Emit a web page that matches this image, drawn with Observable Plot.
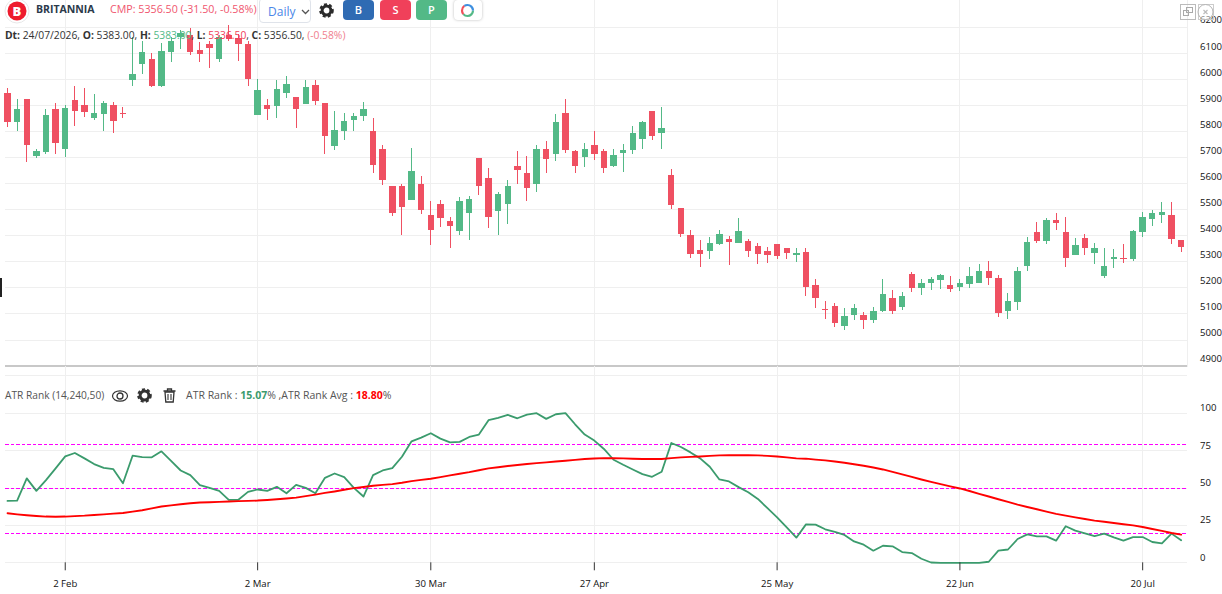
<!DOCTYPE html>
<html>
<head>
<meta charset="utf-8">
<script src="https://cdn.jsdelivr.net/npm/d3@7"></script>
<script src="https://cdn.jsdelivr.net/npm/@observablehq/plot@0.6"></script>
<style>
html,body{margin:0;padding:0;background:#fff;width:1222px;height:594px;overflow:hidden;font-family:"Open Sans",sans-serif;}
#root{position:relative;width:1222px;height:594px;overflow:hidden;}
#price,#atr{position:absolute;left:0;}
#price{top:0;} #atr{top:366px;}
.t{position:absolute;white-space:nowrap;line-height:1;}
.btn{position:absolute;top:0;width:31px;height:20px;border-radius:4px;color:#fff;font-size:11px;font-weight:600;text-align:center;line-height:20px;}
svg.ic{position:absolute;overflow:visible;}
</style>
</head>
<body>
<div id="root">
  <div id="price"></div>
  <div id="atr"></div>

  <svg class="ic" style="left:4px;top:-2px" width="26" height="26" viewBox="0 0 26 26">
    <circle cx="13" cy="13" r="12" fill="#fff" stroke="#e8e8e8" stroke-width="1"/>
    <circle cx="13" cy="13" r="9.5" fill="#ee1c2e"/>
    <text x="13" y="17.6" text-anchor="middle" font-size="13" font-weight="800" fill="#fff" font-family="Open Sans">B</text>
  </svg>
  <div class="t" style="left:36px;top:4px;font-size:10.5px;font-weight:700;color:#2b3a4a;">BRITANNIA</div>
  <div class="t" style="left:110px;top:3.5px;font-size:10.7px;color:#f0566e;" id="cmp">CMP: 5356.50 (-31.50, -0.58%)</div>
  <div style="position:absolute;left:259px;top:-2px;width:52px;height:25px;background:#fff;border:1px solid #dfe3ea;border-radius:4px;box-sizing:border-box;"></div>
  <div class="t" style="left:268px;top:6px;font-size:12px;color:#4a86e8;">Daily</div>
  <svg class="ic" style="left:301px;top:9px" width="9" height="6" viewBox="0 0 9 6"><path d="M1 1 L4.5 4.5 L8 1" fill="none" stroke="#555" stroke-width="1.3"/></svg>

  <svg class="ic" style="left:319px;top:3px" width="15" height="15" viewBox="0 0 15 15">
    <circle cx="7.5" cy="7.5" r="4.4" fill="none" stroke="#2b2b2b" stroke-width="3"/>
    <circle cx="7.5" cy="7.5" r="6.3" fill="none" stroke="#2b2b2b" stroke-width="2" stroke-dasharray="3 2.27"/>
  </svg>
  <div class="btn" style="left:343px;background:#2f6bb3;">B</div>
  <div class="btn" style="left:380px;background:#f0405a;">S</div>
  <div class="btn" style="left:416px;background:#53b987;">P</div>
  <div style="position:absolute;left:454px;top:0;width:28px;height:20px;background:#fff;border-radius:4px;box-shadow:0 0 3px #bbb;"></div>
  <svg class="ic" style="left:460px;top:3px" width="15" height="15" viewBox="0 0 15 15">
    <circle cx="7.5" cy="7.5" r="5.5" fill="none" stroke="#53b987" stroke-width="2.2" stroke-dasharray="13 21.6"/>
    <circle cx="7.5" cy="7.5" r="5.5" fill="none" stroke="#f0505a" stroke-width="2.2" stroke-dasharray="9 25.6" stroke-dashoffset="-13"/>
    <circle cx="7.5" cy="7.5" r="5.5" fill="none" stroke="#3d8fe0" stroke-width="2.2" stroke-dasharray="12.6 22" stroke-dashoffset="-22"/>
  </svg>

  <div class="t" id="dt" style="left:5px;top:29.5px;font-size:10.3px;color:#333;">
    <b>Dt:</b> 24/07/2026, <b>O:</b> 5383.00, <b>H:</b> <span style="color:#53b987">5383.00</span>, <b>L:</b> <span style="color:#f0405a">5336.50</span>, <b>C:</b> 5356.50, <span style="color:#f0808e">(-0.58%)</span>
  </div>

  <svg class="ic" style="left:1180px;top:4px" width="34" height="16" viewBox="0 0 34 16">
    <rect x="0.5" y="0.5" width="15" height="15" fill="none" stroke="#bbb"/>
    <rect x="3.5" y="6.5" width="5" height="5" fill="none" stroke="#aaa"/>
    <rect x="6.5" y="3.5" width="6" height="5" fill="none" stroke="#aaa"/>
    <rect x="18.5" y="0.5" width="15" height="15" fill="none" stroke="#ccc"/>
    <circle cx="25.5" cy="8" r="7.5" fill="#fff" fill-opacity="0.5" stroke="#b5b5b5"/>
    <path d="M23.5 6 L27.5 10 M27.5 6 L23.5 10" stroke="#bbb" stroke-width="1.2"/>
  </svg>

  <div style="position:absolute;left:0;top:278px;width:1.5px;height:19px;background:#222;"></div>

  <div class="t" id="lg" style="left:5px;top:390px;font-size:10.2px;color:#555;">ATR Rank (14,240,50)</div>
  <svg class="ic" style="left:111px;top:389px" width="18" height="14" viewBox="0 0 18 14">
    <ellipse cx="9" cy="7" rx="7.5" ry="5.2" fill="none" stroke="#333" stroke-width="1.2"/>
    <circle cx="9" cy="7" r="3" fill="none" stroke="#333" stroke-width="1.3"/>
  </svg>
  <svg class="ic" style="left:137px;top:388px" width="15" height="15" viewBox="0 0 15 15">
    <circle cx="7.5" cy="7.5" r="4.4" fill="none" stroke="#333" stroke-width="3"/>
    <circle cx="7.5" cy="7.5" r="6.3" fill="none" stroke="#333" stroke-width="2" stroke-dasharray="3 2.27"/>
  </svg>
  <svg class="ic" style="left:163px;top:388px" width="13" height="15" viewBox="0 0 13 15">
    <path d="M0.5 3 H12.5 M4.5 3 V1 H8.5 V3" fill="none" stroke="#333" stroke-width="1.3"/>
    <path d="M2 4 L2.8 14 H10.2 L11 4 Z" fill="none" stroke="#333" stroke-width="1.3"/>
    <path d="M5 6 V12 M8 6 V12" stroke="#333" stroke-width="1.1"/>
  </svg>
  <div class="t" id="lg2" style="left:186px;top:390px;font-size:10.5px;color:#555;">ATR Rank : <b style="color:#3b9b6d">15.07</b>% ,ATR Rank Avg : <b style="color:#ff0000">18.80</b>%</div>
</div>

<script>
const open = [5948,5835,5923,5706,5721,5886,5730,5921,5900,5852,5867,5900,5870,5998,6056,6078,5975,6105,6160,6170,6113,6136,6078,6169,6159,6135,5863,5902,5898,5945,5931,5905,5978,5909,5744,5802,5844,5859,5800,5733,5590,5590,5535,5598,5478,5521,5456,5417,5487,5698,5621,5494,5521,5667,5640,5597,5732,5711,5871,5725,5702,5748,5725,5667,5717,5728,5771,5878,5794,5632,5506,5402,5344,5341,5368,5387,5371,5379,5360,5341,5367,5352,5325,5336,5208,5119,5129,5050,5094,5094,5074,5108,5159,5124,5251,5197,5216,5229,5211,5201,5213,5216,5263,5236,5109,5144,5282,5412,5378,5458,5412,5324,5389,5332,5243,5309,5312,5309,5412,5462,5478,5478,5383];
const high = [5966,5923,5923,5731,5885,5908,5900,5975,5966,5943,5916,5912,5894,6163,6147,6101,6137,6163,6190,6196,6141,6147,6167,6209,6173,6145,6001,5923,5996,6013,5932,5996,5996,5909,5879,5871,5871,5913,5852,5747,5590,5598,5736,5629,5531,5536,5471,5547,5551,5698,5658,5566,5613,5725,5705,5748,5763,5867,5924,5728,5755,5801,5732,5732,5752,5821,5840,5878,5894,5655,5506,5421,5383,5394,5421,5398,5467,5387,5371,5356,5367,5352,5352,5351,5231,5147,5142,5120,5136,5105,5124,5232,5190,5182,5259,5232,5240,5250,5243,5231,5278,5289,5301,5247,5178,5278,5393,5451,5466,5485,5470,5389,5405,5370,5351,5347,5366,5420,5489,5497,5528,5528,5383];
const low = [5815,5802,5680,5696,5711,5711,5699,5821,5855,5844,5802,5794,5849,5975,6021,5971,5968,6067,6117,6094,6067,6044,6067,6145,6071,5975,5863,5844,5852,5928,5813,5905,5902,5713,5729,5767,5802,5840,5640,5594,5475,5402,5535,5483,5364,5433,5352,5402,5383,5556,5429,5402,5444,5598,5533,5567,5640,5686,5717,5640,5663,5690,5640,5663,5644,5713,5732,5767,5732,5502,5394,5314,5279,5310,5364,5287,5371,5318,5291,5295,5310,5310,5298,5168,5122,5078,5049,5036,5074,5040,5063,5105,5097,5113,5182,5170,5190,5193,5182,5185,5197,5216,5209,5086,5078,5113,5263,5370,5366,5420,5278,5324,5324,5289,5236,5274,5293,5301,5393,5435,5447,5366,5336.5];
const close = [5834,5886,5745,5725,5862,5756,5889,5879,5875,5870,5909,5838,5867,6021,6104,5973,6109,6147,6177,6105,6097,6120,6160,6152,6136,6001,5958,5886,5962,5982,5886,5971,5917,5783,5806,5840,5859,5886,5669,5614,5486,5510,5647,5497,5419,5467,5437,5533,5540,5590,5471,5560,5590,5652,5583,5732,5694,5836,5728,5667,5732,5713,5659,5709,5728,5794,5836,5780,5813,5517,5406,5330,5329,5371,5406,5375,5417,5341,5329,5325,5321,5333,5333,5202,5158,5114,5064,5090,5120,5074,5109,5174,5109,5167,5197,5216,5231,5246,5195,5216,5242,5263,5236,5101,5147,5263,5374,5378,5458,5447,5312,5362,5351,5351,5284,5316,5309,5416,5470,5485,5489,5385,5356.5];
const atrRank = [41.4,41.6,56.4,48.1,55.3,63.1,71.1,73.4,69.8,66,63.5,62.6,53.2,71.6,70.7,70.5,74.5,68.2,61.7,58.6,51.9,50.1,48.1,42.1,42.1,47.4,49,48.1,50.8,46.5,52.1,50.1,46.5,56.8,59.7,57.3,50.1,44.3,58.6,61.7,63.3,70.9,81.2,83.7,86.6,83,80.5,80.8,84.1,85.7,95.3,96.9,98.9,96.6,99.1,100,96.2,99.3,100,92.6,85.7,81.7,76.1,68.9,65.5,62.4,59.3,57.5,60.9,80.1,77.4,73.8,69.8,64.2,55.7,54.4,50.6,47.2,42.7,36.5,30.4,23.7,16.8,25.7,25.5,22.4,20.6,18.6,14.3,12.1,8.1,11.4,11,7.2,6.5,2.7,0.2,0,0,0,0,0,0.7,8.1,8.9,15.9,19,17.7,17.7,14.8,24.4,21.5,19.7,17.9,19.5,17,14.8,17.2,17.2,13.9,13,19.5,15.07];
const atrAvg = [33.1,32.4,31.8,31.3,30.9,30.8,30.9,31.2,31.5,32,32.4,32.9,33.3,34.2,35.1,36.4,37.6,38.4,39.1,39.8,40.3,40.5,40.7,41,41.2,41.4,41.6,42,42.5,43,43.6,44.6,45.6,46.7,47.7,48.8,49.9,50.7,51.5,52.1,52.6,53.5,54.6,55.4,56.2,57.3,58.4,59.5,60.6,61.9,63.1,63.9,64.7,65.4,66,66.6,67.1,67.7,68.2,68.8,69.4,69.7,70,69.9,69.8,69.6,69.4,69.4,69.4,70,70.5,70.8,71.1,71.5,71.8,71.9,72,71.9,71.8,71.5,71.1,70.5,69.8,69.6,69,68.5,67.7,66.9,65.9,64.9,63.7,62.4,60.8,59.1,57.4,55.7,54.1,52.6,51.1,49.7,48,46.1,44.3,42.5,40.7,38.9,37.3,35.8,34.2,32.7,31.5,30.4,29.3,28.2,27.4,26.6,25.8,25,23.9,22.6,21.3,19.9,18.8];
const levels = [79.1, 49.7, 19.6];
const priceTicks = [4900,5000,5100,5200,5300,5400,5500,5600,5700,5800,5900,6000,6100,6200];
const rankTicks = [0,25,50,75,100];
const rankGrid = [0,25,50,75,100,125];
const dateBars = [6,26,44,61,80,99,118];
const dateLabels = ["2 Feb","2 Mar","30 Mar","27 Apr","25 May","22 Jun","20 Jul"];

const UP = "#53b987", DOWN = "#ef5062", GRID = "#efefef";
const bars = open.map((o,i)=>({i,open:o,high:high[i],low:low[i],close:close[i],atr:atrRank[i],avg:atrAvg[i]}));
const color = d => d.close >= d.open ? UP : DOWN;
const xScale = {type:"linear",domain:[-0.21,122.66],range:[5,1187]};
const font = {fontFamily:"'Open Sans',sans-serif",fontSize:"9.6px",color:"#111",overflow:"visible",background:"transparent"};
const crisp = {shapeRendering:"crispEdges"};

const pricePlot = Plot.plot({
  width:1222,height:367,marginLeft:5,marginRight:35,marginTop:0,marginBottom:0,
  style:font,
  x:{...xScale,axis:null},
  y:{domain:[4900,6300],range:[365.55,0.85],axis:null},
  marks:[
    Plot.ruleX(dateBars,{x:d=>d,stroke:GRID,strokeWidth:1,...crisp}),
    Plot.ruleY(priceTicks.slice(1),{y:d=>d,stroke:GRID,strokeWidth:1,...crisp}),
    Plot.ruleY([4900],{stroke:"#c8c8c8",strokeWidth:2,...crisp}),
    Plot.ruleX([122.66],{stroke:GRID,strokeWidth:1,...crisp}),
    Plot.ruleX(bars,{x:"i",y1:"low",y2:"high",stroke:color,strokeWidth:1,...crisp}),
    Plot.ruleX(bars,{x:"i",y1:"open",y2:"close",stroke:color,strokeWidth:6.4,...crisp}),
    Plot.axisY(priceTicks,{anchor:"right",tickSize:0,tickPadding:12.5,dy:-7,label:null,tickFormat:d=>String(d)})
  ]
});
document.getElementById("price").append(pricePlot);

const atrPlot = Plot.plot({
  width:1222,height:228,marginLeft:5,marginRight:35,marginTop:0,marginBottom:31.7,
  style:font,
  x:{...xScale,axis:null},
  y:{domain:[0,125],range:[196.3,9.3],axis:null},
  marks:[
    Plot.ruleX(dateBars,{x:d=>d,y1:0,y2:131.3,stroke:GRID,strokeWidth:1,...crisp}),
    Plot.ruleY(rankGrid,{y:d=>d,stroke:GRID,strokeWidth:1,...crisp}),
    Plot.ruleY(levels,{y:d=>d,stroke:"#ff00ff",strokeWidth:1,strokeDasharray:"3.5,2",...crisp}),
    Plot.line(bars,{x:"i",y:"atr",stroke:"#3b9b6d",strokeWidth:1.8,curve:"linear"}),
    Plot.line(bars,{x:"i",y:"avg",stroke:"#ff0000",strokeWidth:1.9,curve:"linear"}),
    Plot.axisY(rankTicks,{anchor:"right",tickSize:0,tickPadding:12.5,dy:-5,label:null,tickFormat:d=>String(d)}),
    Plot.axisX(dateBars,{anchor:"bottom",tickSize:8,tickPadding:9.5,label:null,stroke:"#333",tickFormat:d=>dateLabels[dateBars.indexOf(d)]})
  ]
});
document.getElementById("atr").append(atrPlot);
</script>
</body>
</html>
